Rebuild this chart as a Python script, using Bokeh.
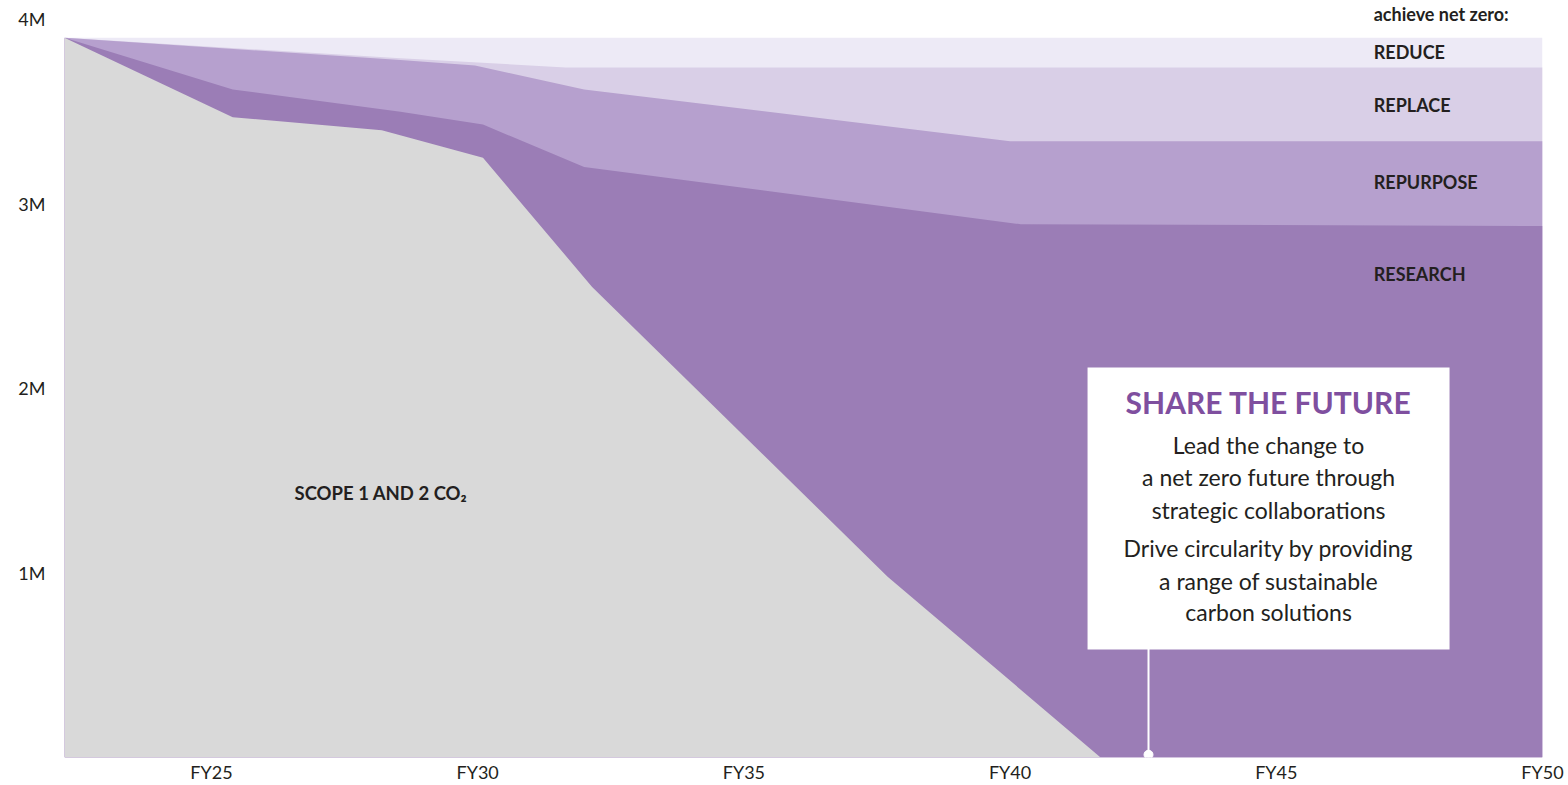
from bokeh.plotting import figure
from bokeh.models import Range1d, FixedTicker, Label, BoxAnnotation
from bokeh.embed import file_html
from bokeh.resources import INLINE

# ---- data (emissions, millions of tonnes CO2, cumulative stack tops) ----
years_scope = [22.24, 25.4, 28.2, 30.1, 32.15, 37.7, 41.7, 50]
scope_top = [3.90, 3.47, 3.40, 3.25, 2.55, 0.98, 0.0, 0.0]

years_research = [22.24, 25.4, 28.55, 30.1, 32.0, 40.2, 50]
research_top = [3.90, 3.62, 3.50, 3.43, 3.20, 2.89, 2.88]

years_repurpose = [22.24, 28.55, 29.95, 32.0, 40.0, 50]
repurpose_top = [3.90, 3.78, 3.75, 3.62, 3.34, 3.34]

years_replace = [22.24, 28.55, 31.65, 50]
replace_top = [3.90, 3.79, 3.74, 3.74]

years_reduce = [22.24, 50]
reduce_top = [3.90, 3.90]

x_ticks = [25, 30, 35, 40, 45, 50]
x_labels = ["FY25", "FY30", "FY35", "FY40", "FY45", "FY50"]
y_ticks = [1, 2, 3, 4]
y_labels = ["1M", "2M", "3M", "4M"]

layer_names = ["REDUCE", "REPLACE", "REPURPOSE", "RESEARCH"]
callout_x = 42.6

# ---- styles ----
C_REDUCE = "#edeaf6"
C_REPLACE = "#d9cfe7"
C_REPURPOSE = "#b6a0ce"
C_RESEARCH = "#9b7db6"
C_SCOPE = "#d9d9d9"
C_TEXT = "#231f20"
C_TITLE = "#7f4f9f"
FONT = "Lato"

p = figure(width=1568, height=785, output_backend="svg", toolbar_location=None,
           x_range=Range1d(22.24, 50), y_range=Range1d(0, 4.1025),
           min_border_left=64, min_border_right=26, min_border_top=0, min_border_bottom=28)
p.outline_line_color = None
p.grid.visible = False
p.background_fill_color = "white"
p.border_fill_color = "white"

p.varea(x=years_reduce, y1=[0] * len(years_reduce), y2=reduce_top, fill_color=C_REDUCE)
p.varea(x=years_replace, y1=[0] * len(years_replace), y2=replace_top, fill_color=C_REPLACE)
p.varea(x=years_repurpose, y1=[0] * len(years_repurpose), y2=repurpose_top, fill_color=C_REPURPOSE)
p.varea(x=years_research, y1=[0] * len(years_research), y2=research_top, fill_color=C_RESEARCH)
p.varea(x=years_scope, y1=[0] * len(years_scope), y2=scope_top, fill_color=C_SCOPE)

# axes
p.xaxis.ticker = FixedTicker(ticks=x_ticks)
p.xaxis.major_label_overrides = {t: l for t, l in zip(x_ticks, x_labels)}
p.yaxis.ticker = FixedTicker(ticks=y_ticks)
p.yaxis.major_label_overrides = {t: l for t, l in zip(y_ticks, y_labels)}
for ax in (p.xaxis[0], p.yaxis[0]):
    ax.axis_line_color = None
    ax.major_tick_line_color = None
    ax.minor_tick_line_color = None
    ax.major_tick_out = 0
    ax.major_tick_in = 0
    ax.axis_label_standoff = 0
    ax.major_label_text_font = FONT
    ax.major_label_text_font_size = "18px"
    ax.major_label_text_color = C_TEXT
p.xaxis.major_label_standoff = 3
p.yaxis.major_label_standoff = 19

# right-side legend labels
p.add_layout(Label(x=46.83, y=4.027, text="achieve net zero:", text_font=FONT, text_font_style="bold",
                   text_font_size="18px", text_color=C_TEXT, text_baseline="middle"))
for name, yy in zip(layer_names, [3.821, 3.534, 3.117, 2.618]):
    p.add_layout(Label(x=46.83, y=yy, text=name, text_font=FONT, text_font_style="bold",
                       text_font_size="18px", text_color=C_TEXT, text_baseline="middle"))

p.add_layout(Label(x=26.56, y=1.436, text="SCOPE 1 AND 2 CO\u2082", text_font=FONT, text_font_style="bold",
                   text_font_size="18.5px", text_color=C_TEXT, text_baseline="middle"))

# callout
p.segment(x0=[callout_x], y0=[0], x1=[callout_x], y1=[0.6], line_color="white", line_width=2)
p.scatter(x=[callout_x], y=[0.015], size=9, fill_color="white", line_color="white")
p.add_layout(BoxAnnotation(left=41.455, right=48.254, bottom=0.585, top=2.114,
                           fill_color="white", fill_alpha=1.0, line_color=None))
p.add_layout(Label(x=44.855, y=1.924, text="SHARE THE FUTURE", text_font=FONT, text_font_style="bold",
                   text_font_size="30px", text_color=C_TITLE, text_align="center", text_baseline="middle"))
body = ["Lead the change to", "a net zero future through", "strategic collaborations",
        "Drive circularity by providing", "a range of sustainable", "carbon solutions"]
for line, yy in zip(body, [1.691, 1.518, 1.344, 1.133, 0.959, 0.786]):
    p.add_layout(Label(x=44.855, y=yy, text=line, text_font=FONT, text_font_size="23px",
                       text_color=C_TEXT, text_align="center", text_baseline="middle"))

open("out.html", "w").write(file_html(p, INLINE))
